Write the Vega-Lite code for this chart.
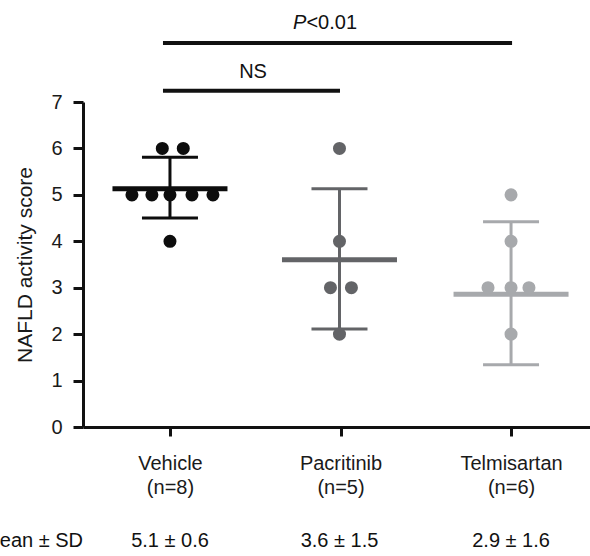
{
  "$schema": "https://vega.github.io/schema/vega-lite/v6.json",
  "width": 507,
  "height": 325,
  "autosize": {"type": "none"},
  "padding": {"left": 83, "top": 102, "right": 0, "bottom": 129},
  "config": {
    "font": "Liberation Sans",
    "view": {"stroke": null},
    "axis": {"grid": false, "domainColor": "#111111", "tickColor": "#111111", "labelColor": "#1a1a1a", "titleColor": "#1a1a1a", "labelFont": "Liberation Sans", "titleFont": "Liberation Sans"}
  },
  "datasets": {
    "points": [
      {"group": "Vehicle", "pos": 0.955, "score": 6},
      {"group": "Vehicle", "pos": 1.078, "score": 6},
      {"group": "Vehicle", "pos": 0.777, "score": 5},
      {"group": "Vehicle", "pos": 0.894, "score": 5},
      {"group": "Vehicle", "pos": 1.0, "score": 5},
      {"group": "Vehicle", "pos": 1.129, "score": 5},
      {"group": "Vehicle", "pos": 1.252, "score": 5},
      {"group": "Vehicle", "pos": 1.0, "score": 4},
      {"group": "Pacritinib", "pos": 1.994, "score": 6},
      {"group": "Pacritinib", "pos": 1.994, "score": 4},
      {"group": "Pacritinib", "pos": 1.941, "score": 3},
      {"group": "Pacritinib", "pos": 2.064, "score": 3},
      {"group": "Pacritinib", "pos": 1.994, "score": 2},
      {"group": "Telmisartan", "pos": 3.0, "score": 5},
      {"group": "Telmisartan", "pos": 3.0, "score": 4},
      {"group": "Telmisartan", "pos": 2.865, "score": 3},
      {"group": "Telmisartan", "pos": 3.0, "score": 3},
      {"group": "Telmisartan", "pos": 3.105, "score": 3},
      {"group": "Telmisartan", "pos": 3.0, "score": 2}
    ],
    "summary": [
      {"group": "Vehicle", "pos": 1.0, "mean": 5.13, "lo": 4.5, "hi": 5.81, "stat": "5.1 ± 0.6"},
      {"group": "Pacritinib", "pos": 1.994, "mean": 3.6, "lo": 2.11, "hi": 5.13, "stat": "3.6 ± 1.5"},
      {"group": "Telmisartan", "pos": 3.0, "mean": 2.86, "lo": 1.34, "hi": 4.42, "stat": "2.9 ± 1.6"}
    ],
    "brackets": [
      {"from": 0.959, "to": 3.006, "level": 8.27},
      {"from": 0.959, "to": 1.997, "level": 7.24}
    ]
  },
  "encoding": {
    "x": {"type": "quantitative", "scale": {"domain": [0.49, 3.463], "nice": false, "zero": false}},
    "y": {"type": "quantitative", "scale": {"domain": [0, 7], "nice": false, "zero": false}}
  },
  "layer": [
    {
      "data": {"name": "summary"},
      "mark": {"type": "rule", "strokeWidth": 3},
      "encoding": {
        "x": {"field": "pos", "type": "quantitative", "axis": {"values": [1, 2, 3], "title": null, "tickSize": 9, "tickWidth": 3, "domainWidth": 3, "labelFontSize": 20, "labelLineHeight": 24, "labelPadding": 17, "labelBaseline": "top", "labelExpr": "datum.value == 1 ? ['Vehicle', '(n=8)'] : datum.value == 2 ? ['Pacritinib', '(n=5)'] : ['Telmisartan', '(n=6)']"}},
        "y": {"field": "lo", "type": "quantitative", "axis": {"values": [0, 1, 2, 3, 4, 5, 6, 7], "title": "NAFLD activity score", "titleFontSize": 21, "titleFontWeight": "normal", "titlePadding": 15, "labelFontSize": 20, "tickSize": 10, "tickWidth": 3, "domainWidth": 3, "labelPadding": 11}},
        "y2": {"field": "hi"},
        "color": {"field": "group", "type": "nominal", "scale": {"domain": ["Vehicle", "Pacritinib", "Telmisartan"], "range": ["#0d0d0d", "#636467", "#a7a9ac"]}, "legend": null}
      }
    },
    {
      "data": {"name": "summary"},
      "mark": {"type": "tick", "orient": "horizontal", "size": 56, "thickness": 3, "opacity": 1},
      "encoding": {
        "x": {"field": "pos", "type": "quantitative"},
        "y": {"field": "lo", "type": "quantitative"},
        "color": {"field": "group", "type": "nominal", "legend": null}
      }
    },
    {
      "data": {"name": "summary"},
      "mark": {"type": "tick", "orient": "horizontal", "size": 56, "thickness": 3, "opacity": 1},
      "encoding": {
        "x": {"field": "pos", "type": "quantitative"},
        "y": {"field": "hi", "type": "quantitative"},
        "color": {"field": "group", "type": "nominal", "legend": null}
      }
    },
    {
      "data": {"name": "summary"},
      "mark": {"type": "tick", "orient": "horizontal", "size": 115, "thickness": 5, "opacity": 1},
      "encoding": {
        "x": {"field": "pos", "type": "quantitative"},
        "y": {"field": "mean", "type": "quantitative"},
        "color": {"field": "group", "type": "nominal", "legend": null}
      }
    },
    {
      "data": {"name": "points"},
      "mark": {"type": "circle", "size": 170, "opacity": 1},
      "encoding": {
        "x": {"field": "pos", "type": "quantitative"},
        "y": {"field": "score", "type": "quantitative"},
        "color": {"field": "group", "type": "nominal", "legend": null}
      }
    },
    {
      "data": {"name": "brackets"},
      "mark": {"type": "rule", "strokeWidth": 4, "color": "#111111", "clip": false},
      "encoding": {
        "x": {"field": "from", "type": "quantitative"},
        "x2": {"field": "to"},
        "y": {"field": "level", "type": "quantitative"}
      }
    },
    {
      "data": {"values": [{"pos": 1.487, "level": 7.64, "label": "NS"}]},
      "mark": {"type": "text", "fontSize": 20, "color": "#111111", "baseline": "middle", "align": "center", "clip": false},
      "encoding": {
        "x": {"field": "pos", "type": "quantitative"},
        "y": {"field": "level", "type": "quantitative"},
        "text": {"field": "label"}
      }
    },
    {
      "data": {"values": [{"pos": 1.80, "level": 8.70, "label": "<0.01"}]},
      "mark": {"type": "text", "fontSize": 20, "color": "#111111", "baseline": "middle", "align": "left", "clip": false},
      "encoding": {
        "x": {"field": "pos", "type": "quantitative"},
        "y": {"field": "level", "type": "quantitative"},
        "text": {"field": "label"}
      }
    },
    {
      "data": {"values": [{"pos": 1.80, "level": 8.70, "label": "P"}]},
      "mark": {"type": "text", "fontSize": 20, "fontStyle": "italic", "color": "#111111", "baseline": "middle", "align": "right", "clip": false},
      "encoding": {
        "x": {"field": "pos", "type": "quantitative"},
        "y": {"field": "level", "type": "quantitative"},
        "text": {"field": "label"}
      }
    },
    {
      "data": {"name": "summary"},
      "mark": {"type": "text", "fontSize": 20, "color": "#111111", "baseline": "middle", "align": "center", "clip": false},
      "encoding": {
        "x": {"field": "pos", "type": "quantitative"},
        "y": {"datum": -2.45, "type": "quantitative"},
        "text": {"field": "stat"}
      }
    },
    {
      "data": {"values": [{"pos": 0.49, "label": "Mean ± SD"}]},
      "mark": {"type": "text", "fontSize": 20, "color": "#111111", "baseline": "middle", "align": "right", "clip": false},
      "encoding": {
        "x": {"field": "pos", "type": "quantitative"},
        "y": {"datum": -2.45, "type": "quantitative"},
        "text": {"field": "label"}
      }
    }
  ]
}
